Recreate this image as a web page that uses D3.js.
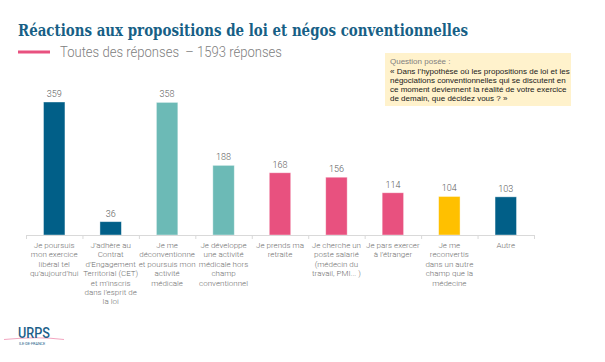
<!DOCTYPE html>
<html>
<head>
<meta charset="utf-8">
<script src="https://cdn.jsdelivr.net/npm/d3@7"></script>
<style>
  body { margin: 0; background: #fff; }
  svg { display: block; }
</style>
</head>
<body>
<svg id="chart"></svg>
<script>
// data
const categories = [
    "Je poursuis\nmon exercice\nlibéral tel\nqu’aujourd’hui",
    "J’adhère au\nContrat\nd’Engagement\nTerritorial (CET)\net m’inscris\ndans l’esprit de\nla loi",
    "Je me\ndéconventionne\net poursuis mon\nactivité\nmédicale",
    "Je développe\nune activité\nmédicale hors\nchamp\nconventionnel",
    "Je prends ma\nretraite",
    "Je cherche un\nposte salarié\n(médecin du\ntravail, PMI... )",
    "Je pars exercer\nà l’étranger",
    "Je me\nreconvertis\ndans un autre\nchamp que la\nmédecine",
    "Autre"
];
const values = [359, 36, 358, 188, 168, 156, 114, 104, 103];
const groups = ["libéral", "libéral", "conv", "conv", "sortie", "sortie", "sortie", "reconv", "libéral"];
const groupColors = { "libéral": "#015f88", "conv": "#6cbab6", "sortie": "#e8517f", "reconv": "#ffc000" };

const title = "Réactions aux propositions de loi et négos conventionnelles";
const subtitle = "Toutes des réponses  – 1593 réponses";
const questionHead = "Question posée :";
const questionLines = [
    "« Dans l’hypothèse où les propositions de loi et les",
    "négociations conventionnelles qui se discutent en",
    "ce moment deviennent la réalité de votre exercice",
    "de demain, que décidez vous ? »"
];

const width = 605, height = 362;
const margin = { left: 26, right: 71, top: 0, bottom: 127 };

let svg = d3.select('#chart')
    .attr('width', width)
    .attr('height', height);

// title block
svg.append('text')
    .attr('x', 18).attr('y', 36)
    .attr('font-family', 'DejaVu Serif')
    .attr('font-weight', 'bold')
    .attr('font-size', 16)
    .attr('fill', '#175f86')
    .attr('textLength', 450)
    .attr('lengthAdjust', 'spacingAndGlyphs')
    .text(title);

svg.append('line')
    .attr('x1', 18).attr('x2', 50)
    .attr('y1', 52).attr('y2', 52)
    .attr('stroke', '#e8517f')
    .attr('stroke-width', 3);

svg.append('text')
    .attr('x', 60).attr('y', 57)
    .attr('font-family', 'Roboto')
    .attr('font-weight', 300)
    .attr('font-size', 14)
    .attr('fill', '#808080')
    .attr('xml:space', 'preserve')
    .attr('textLength', 222)
    .attr('lengthAdjust', 'spacingAndGlyphs')
    .text(subtitle);

// question box
let qBox = svg.append('g').attr('transform', 'translate(385,53)');
qBox.append('rect')
    .attr('width', 186).attr('height', 53)
    .attr('fill', '#fff2cc');
qBox.append('text')
    .attr('x', 5).attr('y', 11)
    .attr('font-family', 'Liberation Sans')
    .attr('font-size', 8)
    .attr('fill', '#7f7f7f')
    .text(questionHead);
qBox.selectAll('text.q')
    .data(questionLines)
    .join('text')
    .attr('class', 'q')
    .attr('x', 5)
    .attr('y', (d, i) => 20.5 + i * 9.3)
    .attr('font-family', 'Liberation Sans')
    .attr('font-size', 8)
    .attr('fill', '#1a1a1a')
    .text(d => d);

// scales
let xScale = d3.scaleBand()
    .domain(categories)
    .range([margin.left, width - margin.right])
    .paddingInner(0.62)
    .paddingOuter(0.31);

let yScale = d3.scaleLinear()
    .domain([0, 359])
    .range([height - margin.bottom, 102]);

let baseY = height - margin.bottom;

// bars
svg.append('g')
    .selectAll('rect')
    .data(values)
    .join('rect')
    .attr('x', (d, i) => xScale(categories[i]))
    .attr('y', d => yScale(d))
    .attr('width', xScale.bandwidth())
    .attr('height', d => baseY - yScale(d))
    .attr('fill', (d, i) => groupColors[groups[i]])
    .attr('stroke', '#ffffff')
    .attr('stroke-opacity', 0.5)
    .attr('stroke-width', 0.8);

// value labels
svg.append('g')
    .selectAll('text')
    .data(values)
    .join('text')
    .attr('x', (d, i) => xScale(categories[i]) + xScale.bandwidth() / 2)
    .attr('y', d => yScale(d) - 5)
    .attr('text-anchor', 'middle')
    .attr('font-family', 'Roboto')
    .attr('font-weight', 300)
    .attr('font-size', 9)
    .attr('fill', '#595959')
    .text(d => d);

// x axis
let step = xScale.step();
let axis = svg.append('g');
axis.append('line')
    .attr('x1', margin.left).attr('x2', width - margin.right)
    .attr('y1', baseY + 0.5).attr('y2', baseY + 0.5)
    .attr('stroke', '#d9d9d9');
axis.selectAll('line.tick')
    .data(d3.range(categories.length + 1))
    .join('line')
    .attr('class', 'tick')
    .attr('x1', i => margin.left + i * step + 0.5)
    .attr('x2', i => margin.left + i * step + 0.5)
    .attr('y1', baseY).attr('y2', baseY + 4)
    .attr('stroke', '#d9d9d9');

let labels = axis.selectAll('text')
    .data(categories)
    .join('text')
    .attr('text-anchor', 'middle')
    .attr('font-family', 'Roboto')
    .attr('font-weight', 300)
    .attr('font-size', 8)
    .attr('fill', '#6f6f6f');
labels.selectAll('tspan')
    .data(d => d.split('\n').map(t => ({ t: t, c: d })))
    .join('tspan')
    .attr('x', d => xScale(d.c) + xScale.bandwidth() / 2)
    .attr('y', (d, i) => baseY + 13 + i * 9.4)
    .text(d => d.t);

// logo
let logo = svg.append('g').attr('transform', 'translate(18,338)');
logo.append('path')
    .attr('d', 'M-14,1.5 Q20,-2 46,1.5')
    .attr('fill', 'none')
    .attr('stroke', '#f2a6c0')
    .attr('stroke-width', 1.2);
logo.append('text')
    .attr('x', 0).attr('y', 0)
    .attr('font-family', 'Roboto')
    .attr('font-weight', 500)
    .attr('font-size', 14)
    .attr('fill', '#1d5f8a')
    .attr('textLength', 32)
    .attr('lengthAdjust', 'spacingAndGlyphs')
    .text('URPS');
logo.append('text')
    .attr('x', 1).attr('y', 6.5)
    .attr('font-family', 'Roboto')
    .attr('font-size', 3.8)
    .attr('fill', '#1d5f8a')
    .text('ILE-DE-FRANCE');
</script>
</body>
</html>
